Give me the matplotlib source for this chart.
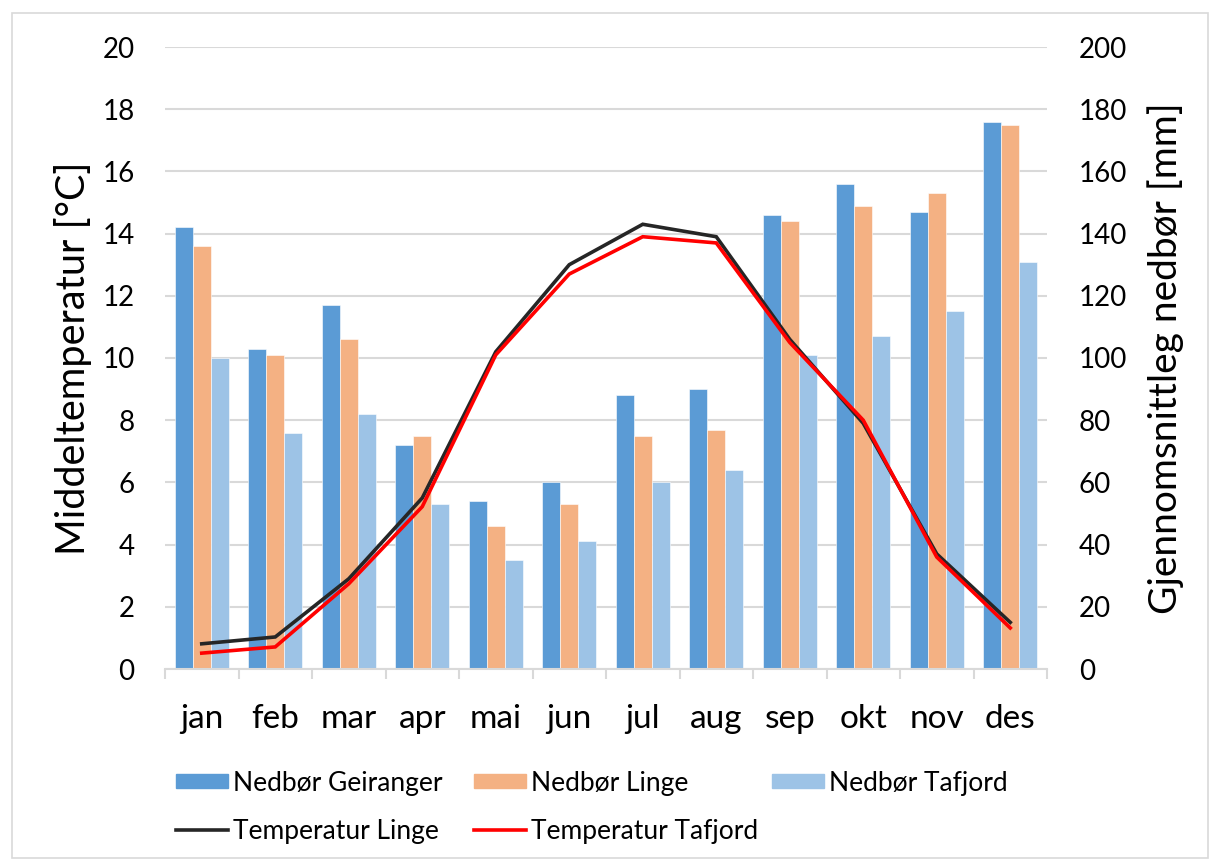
import matplotlib
matplotlib.use("Agg")
import matplotlib.pyplot as plt
import numpy as np
from matplotlib.patches import Rectangle
from matplotlib.lines import Line2D

months = ["jan", "feb", "mar", "apr", "mai", "jun", "jul", "aug", "sep", "okt", "nov", "des"]
nedbor_geiranger = [142, 103, 117, 72, 54, 60, 88, 90, 146, 156, 147, 176]
nedbor_linge = [136, 101, 106, 75, 46, 53, 75, 77, 144, 149, 153, 175]
nedbor_tafjord = [100, 76, 82, 53, 35, 41, 60, 64, 101, 107, 115, 131]
temp_linge = [0.81, 1.03, 2.90, 5.50, 10.2, 13.0, 14.3, 13.9, 10.6, 7.9, 3.7, 1.5]
temp_tafjord = [0.51, 0.71, 2.74, 5.22, 10.1, 12.7, 13.9, 13.7, 10.5, 8.0, 3.6, 1.32]

plt.rcParams['font.family'] = ['Lato', 'DejaVu Sans']

W, H = 1209, 860
fig = plt.figure(figsize=(W / 100, H / 100), dpi=100)

# chart border
fig.patches.append(Rectangle((12 / W, 2 / H), (W - 13) / W, (H - 15) / H,
                             transform=fig.transFigure, fill=False,
                             edgecolor="#d9d9d9", linewidth=1.2))

ax2 = fig.add_axes([165 / W, 1 - 669 / H, (1047 - 165) / W, (669 - 47) / H])
ax = ax2.twinx()
ax.set_zorder(ax2.get_zorder() + 1)
ax.patch.set_visible(False)

x = np.arange(len(months))
bw = 0.245
c_g, c_l, c_t = "#5B9BD5", "#F4B183", "#9DC3E6"
c_tl, c_tt = "#262626", "#FF0000"
ax2.bar(x - bw, nedbor_geiranger, bw, color=c_g, edgecolor="white", linewidth=0.4)
ax2.bar(x, nedbor_linge, bw, color=c_l, edgecolor="white", linewidth=0.4)
ax2.bar(x + bw, nedbor_tafjord, bw, color=c_t, edgecolor="white", linewidth=0.4)

ax.plot(x, temp_linge, color=c_tl, linewidth=2.6, solid_joinstyle="miter")
ax.plot(x, temp_tafjord, color=c_tt, linewidth=2.6, solid_joinstyle="miter")

ax2.set_ylim(0, 200)
ax.set_ylim(0, 20)
ax2.set_xlim(-0.5, 11.5)

ax.yaxis.tick_left()
ax.yaxis.set_label_position("left")
ax2.yaxis.tick_right()
ax2.yaxis.set_label_position("right")

ax.set_yticks(np.arange(0, 21, 2))
ax2.set_yticks(np.arange(0, 201, 20))
ax2.yaxis.grid(True, color="#d9d9d9", linewidth=1.5)
ax2.set_axisbelow(True)

for a in (ax, ax2):
    for s in ("left", "right", "top", "bottom"):
        a.spines[s].set_visible(False)

ax2.spines["bottom"].set_visible(True)
ax2.spines["bottom"].set_color("#d9d9d9")
ax2.spines["bottom"].set_linewidth(1.5)

ax.tick_params(axis="y", length=0, pad=22, labelsize=20, labelcolor="#000000")
ax2.tick_params(axis="y", length=0, pad=23, labelsize=20, labelcolor="#000000")

ax2.set_xticks(x)
ax2.set_xticklabels(months)
ax2.set_xticks(np.arange(-0.5, 12, 1), minor=True)
ax2.tick_params(axis="x", which="major", length=0, pad=25, labelsize=24)
ax2.tick_params(axis="x", which="minor", length=7.5, width=1.5, color="#d9d9d9")
ax.tick_params(axis="x", which="both", bottom=False, top=False, labelbottom=False, labeltop=False)

ax.set_ylabel("Middeltemperatur [°C]", fontsize=28.5)
ax.yaxis.set_label_coords((92 - 165) / 882, 0.5)
ax2.set_ylabel("Gjennomsnittleg nedbør [mm]", fontsize=28, rotation=90)
ax2.yaxis.set_label_coords((1147 - 165) / 882, 0.5)

entries = [
    (Rectangle((0, 0), 1, 1, color=c_g), "Nedbør Geiranger", 176, 783),
    (Rectangle((0, 0), 1, 1, color=c_l), "Nedbør Linge", 474, 783),
    (Rectangle((0, 0), 1, 1, color=c_t), "Nedbør Tafjord", 772, 783),
    (Line2D([], [], color=c_tl, linewidth=2.6), "Temperatur Linge", 176, 831),
    (Line2D([], [], color=c_tt, linewidth=2.6), "Temperatur Tafjord", 474, 831),
]
for h, lab, px, py in entries:
    fig.legend([h], [lab], loc="center left", bbox_to_anchor=(px / W, 1 - py / H),
               frameon=False, fontsize=19, handlelength=1.97, handleheight=0.45,
               handletextpad=0.2, borderpad=0, borderaxespad=0)

fig.savefig("out.png", dpi=100)
